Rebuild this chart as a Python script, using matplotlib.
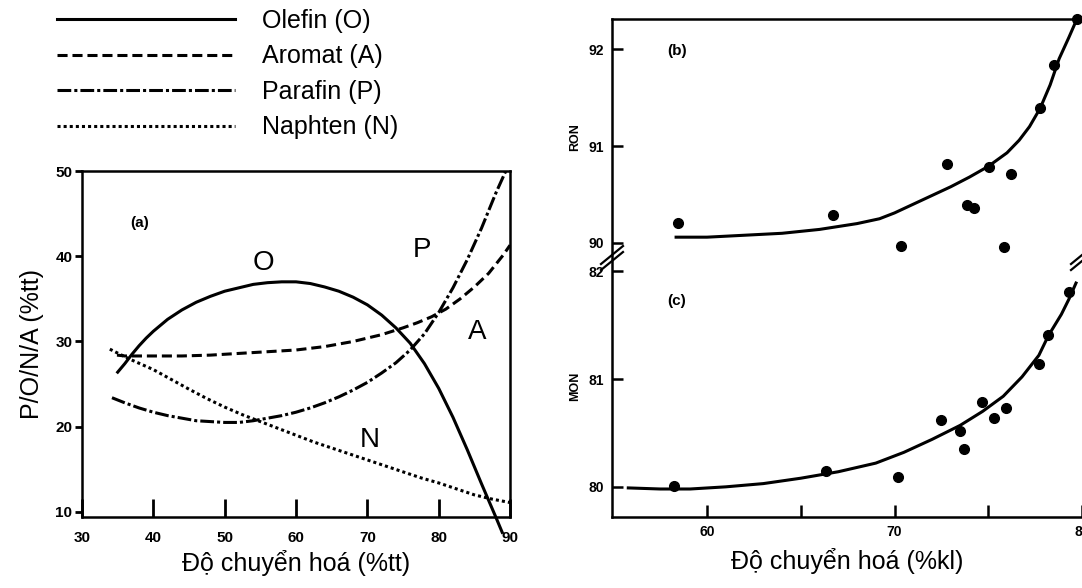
import matplotlib.pyplot as plt
import numpy as np

# (a) composition of the product vs conversion (%tt)
olefin_x = [35.0, 36.0, 37.0, 38.0, 39.0, 40.0, 42.0, 44.0, 46.0, 48.0, 50.0, 52.0, 54.0, 56.0, 58.0,
            60.0, 62.0, 64.0, 66.0, 68.0, 70.0, 72.0, 74.0, 76.0, 78.0, 80.0, 82.0, 84.0, 86.0, 88.0, 88.9]
olefin_y = [26.4, 27.4, 28.5, 29.5, 30.4, 31.2, 32.6, 33.7, 34.6, 35.3, 35.9, 36.3, 36.7, 36.9, 37.0,
            37.0, 36.8, 36.4, 35.9, 35.2, 34.3, 33.1, 31.6, 29.8, 27.4, 24.5, 21.1, 17.3, 13.3, 9.4, 7.6]

aromat_x = [34.9, 36.0, 38.0, 40.0, 44.0, 48.0, 52.0, 56.0, 60.0, 64.0, 68.0, 72.0, 75.0, 77.0, 79.0,
            81.0, 83.0, 85.0, 87.0, 89.0, 90.0]
aromat_y = [28.4, 28.3, 28.3, 28.3, 28.3, 28.4, 28.6, 28.8, 29.0, 29.4, 30.0, 30.8, 31.6, 32.2, 32.9,
            33.8, 35.0, 36.4, 38.0, 40.1, 41.3]

parafin_x = [34.2, 36.0, 38.0, 40.0, 42.0, 44.0, 46.0, 48.0, 50.0, 52.0, 54.0, 56.0, 58.0, 60.0, 62.0,
             64.0, 66.0, 68.0, 70.0, 72.0, 74.0, 76.0, 78.0, 80.0, 82.0, 84.0, 86.0, 88.0, 89.4]
parafin_y = [23.4, 22.8, 22.2, 21.7, 21.3, 21.0, 20.7, 20.6, 20.5, 20.5, 20.7, 21.0, 21.3, 21.7, 22.2,
             22.8, 23.5, 24.3, 25.2, 26.3, 27.5, 29.0, 30.9, 33.4, 36.3, 39.6, 43.3, 47.4, 50.0]

naphten_x = [33.9, 36.5, 40.0, 45.0, 47.5, 50.0, 52.5, 55.0, 57.5, 60.0, 62.5, 65.0, 67.5, 70.0, 72.5,
             75.0, 77.5, 80.0, 82.5, 85.0, 87.5, 90.0]
naphten_y = [29.1, 28.0, 26.7, 24.4, 23.3, 22.3, 21.4, 20.6, 19.8, 19.0, 18.2, 17.5, 16.8, 16.1, 15.4,
             14.7, 14.0, 13.4, 12.7, 12.0, 11.5, 11.1]

# (b) RON and (c) MON vs conversion (%kl)
ron_x = [58.46, 66.70, 70.37, 72.82, 73.88, 74.26, 75.05, 75.85, 76.22, 77.77, 78.51, 79.73]
ron_y = [90.21, 90.29, 89.97, 90.81, 90.39, 90.36, 90.78, 89.96, 90.71, 91.39, 91.84, 92.31]
ron_fit_x = [58.35, 60.0, 62.0, 64.0, 66.0, 68.0, 69.2, 70.0, 71.0, 72.0, 73.0, 74.0, 75.0, 76.0,
             76.65, 77.2, 77.77, 78.3, 78.78, 79.3, 79.73]
ron_fit_y = [90.06, 90.06, 90.08, 90.10, 90.14, 90.20, 90.25, 90.31, 90.40, 90.49, 90.58, 90.68, 90.79, 90.93,
             91.06, 91.20, 91.39, 91.63, 91.90, 92.12, 92.31]

mon_x = [58.24, 66.33, 70.21, 72.50, 73.51, 73.72, 74.68, 75.32, 75.96, 77.71, 78.19, 79.31]
mon_y = [80.01, 80.15, 80.09, 80.62, 80.52, 80.35, 80.79, 80.64, 80.73, 81.14, 81.41, 81.81]
mon_fit_x = [55.8, 57.5, 59.1, 61.0, 63.0, 65.0, 67.0, 69.0, 70.5, 72.0, 73.5, 74.7, 75.8, 76.8, 77.7,
             78.2, 78.9, 79.3, 79.68]
mon_fit_y = [79.99, 79.98, 79.98, 80.00, 80.03, 80.08, 80.14, 80.22, 80.32, 80.44, 80.57, 80.70, 80.84,
             81.02, 81.22, 81.40, 81.60, 81.74, 81.89]

plt.rcParams['font.family'] = ['Liberation Sans', 'DejaVu Sans']

fig = plt.figure(figsize=(10.82, 5.88), dpi=100)

# ---- panel (a)
ax = fig.add_axes([0.0758, 0.1207, 0.3956, 0.5884])
lw = 2.2
l_o, = ax.plot(olefin_x, olefin_y, color='black', lw=lw, clip_on=False)
l_a, = ax.plot(aromat_x, aromat_y, color='black', lw=lw, linestyle=(0, (3.3, 1.6)))
l_p, = ax.plot(parafin_x, parafin_y, color='black', lw=lw, linestyle=(0, (4.5, 1.0, 1.0, 1.0)))
l_n, = ax.plot(naphten_x, naphten_y, color='black', lw=lw, linestyle=(0, (1.0, 1.0)))

ax.set_xlim(30, 90)
ax.set_ylim(9.4, 50)
ax.set_xticks([30, 40, 50, 60, 70, 80, 90])
ax.set_yticks([10, 20, 30, 40, 50])
ax.tick_params(axis='x', direction='in', length=13, width=2, pad=10)
ax.tick_params(axis='y', direction='out', length=5, width=2, pad=2)
for t in ax.get_xticklabels() + ax.get_yticklabels():
    t.set_fontweight('bold')
    t.set_fontsize(11)
for s in ax.spines.values():
    s.set_linewidth(1.8)

ax.set_xlabel('Độ chuyển hoá (%tt)', fontsize=18, labelpad=4)
ax.set_ylabel('P/O/N/A (%tt)', fontsize=18, labelpad=8)

ax.text(38.1, 43.9, '(a)', fontsize=11, fontweight='bold', ha='center', va='center')
ax.text(55.4, 39.2, 'O', fontsize=20, ha='center', va='center')
ax.text(77.7, 40.7, 'P', fontsize=20, ha='center', va='center')
ax.text(85.4, 31.1, 'A', fontsize=20, ha='center', va='center')
ax.text(70.4, 18.4, 'N', fontsize=20, ha='center', va='center')

fig.legend([l_o, l_a, l_p, l_n], ['Olefin (O)', 'Aromat (A)', 'Parafin (P)', 'Naphten (N)'],
           loc='upper left', bbox_to_anchor=(0.0527, 0.985), frameon=False, fontsize=18,
           handlelength=7.1, handletextpad=1.1, labelspacing=0.46, borderpad=0, borderaxespad=0)

# ---- panels (b) and (c), one box with a broken y axis
ax_b = fig.add_axes([0.5656, 0.5663, 0.4344, 0.4014])
ax_c = fig.add_axes([0.5656, 0.1207, 0.4344, 0.4456], sharex=ax_b)

ax_b.plot(ron_fit_x, ron_fit_y, color='black', lw=2.2, clip_on=False)
ax_b.plot(ron_x, ron_y, 'o', color='black', ms=7, clip_on=False)
ax_c.plot(mon_fit_x, mon_fit_y, color='black', lw=2.2, clip_on=False)
ax_c.plot(mon_x, mon_y, 'o', color='black', ms=7, clip_on=False)

ax_c.set_xlim(54.93, 80)
ax_b.set_ylim(89.876, 92.31)
ax_c.set_ylim(79.72, 82.15)
ax_b.set_yticks([90, 91, 92])
ax_c.set_yticks([80, 81, 82])
ax_c.set_xticks([60, 65, 70, 75, 80], ['60', '', '70', '', '80'])

for a in (ax_b, ax_c):
    a.spines['right'].set_visible(False)
    for s in a.spines.values():
        s.set_linewidth(1.8)
    a.tick_params(axis='y', direction='in', length=8, width=1.8, pad=6)
    for t in a.get_yticklabels():
        t.set_fontweight('bold')
        t.set_fontsize(10)
ax_b.spines['bottom'].set_visible(False)
ax_c.spines['top'].set_visible(False)
ax_b.tick_params(axis='x', bottom=False, labelbottom=False)
ax_c.tick_params(axis='x', direction='in', length=9, width=1.8, pad=6)
for t in ax_c.get_xticklabels():
    t.set_fontweight('bold')
    t.set_fontsize(10)

ax_b.set_ylabel('RON', fontsize=9, fontweight='bold', labelpad=5)
ax_c.set_ylabel('MON', fontsize=9, fontweight='bold', labelpad=5)
ax_c.set_xlabel('Độ chuyển hoá (%kl)', fontsize=18, labelpad=6)

ax_b.text(58.4, 91.98, '(b)', fontsize=11, fontweight='bold', ha='center', va='center')
ax_c.text(58.4, 81.72, '(c)', fontsize=11, fontweight='bold', ha='center', va='center')

# break marks on the left and right edges
w = 11 / 470
h = 9 / 262
for xe in (0.0, 1.0):
    for dy in (0.0, -6 / 262):
        ax_c.plot([xe - w, xe + w], [1.0 - h + dy, 1.0 + h + dy], color='black', lw=1.6,
                  transform=ax_c.transAxes, clip_on=False)

fig.savefig('out.png', dpi=100)
